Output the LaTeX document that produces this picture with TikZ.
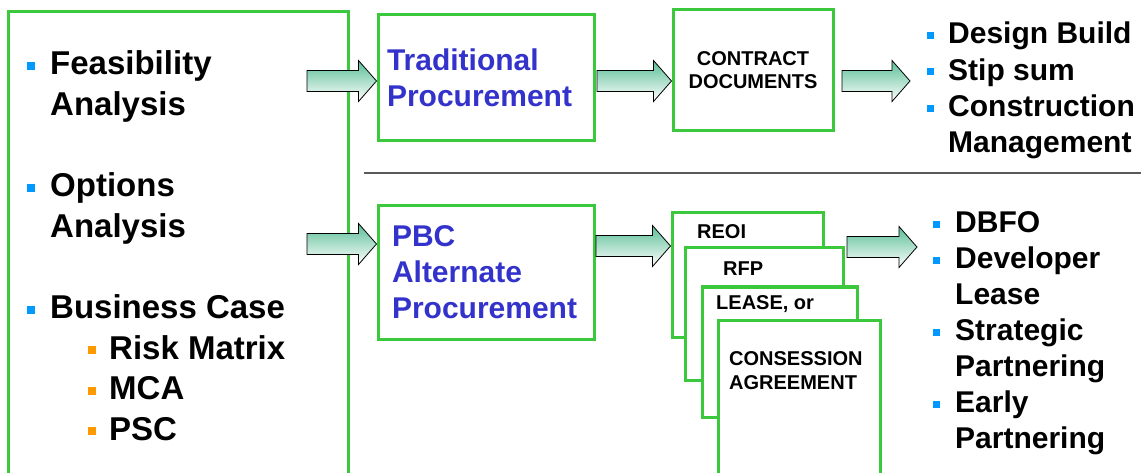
\documentclass[tikz,border=0pt]{standalone}
\usepackage{fontspec}
\setmainfont{Liberation Sans}
\usetikzlibrary{calc}
\definecolor{boxgreen}{RGB}{60,200,60}
\definecolor{procblue}{RGB}{51,51,204}
\definecolor{bulletblue}{RGB}{0,153,255}
\definecolor{bulletorange}{RGB}{255,153,0}
\definecolor{arrowteal}{RGB}{90,190,150}
\definecolor{rulegray}{RGB}{90,90,90}
\newcommand\sqb[2][8pt]{\textcolor{#2}{\rule[5pt]{#1}{#1}}}

\begin{document}
\begin{tikzpicture}[x=1pt,y=-1pt,font=\bfseries,
  box/.style={draw=boxgreen,line width=3pt,fill=white,inner sep=0pt},
  bluetxt/.style={box,text=procblue,align=left,font=\bfseries\fontsize{30}{36}\selectfont},
  smalltxt/.style={inner sep=0pt,font=\bfseries\fontsize{20}{24}\selectfont},
  biglist/.style={inner sep=0pt,anchor=base west},
  blockarr/.style={draw=black,line width=0.8pt,top color=arrowteal,bottom color=white,
    to path={let \p1=(\tikztostart),\p2=(\tikztotarget) in
      (\x1,\y1+10.5pt) -- (\x2-18pt,\y1+10.5pt) -- (\x2-18pt,\y1+20.5pt) -- (\x2,\y1)
      -- (\x2-18pt,\y1-20.5pt) -- (\x2-18pt,\y1-10.5pt) -- (\x1,\y1-10.5pt) -- cycle}}]
\useasboundingbox (0,0) rectangle (1141,473);
\clip (0,0) rectangle (1141,473);
\node[box,fill=none,minimum width=340pt,minimum height=480pt] (prep) at (178,252) {};
\node[biglist,font=\bfseries\fontsize{33}{40.6}\selectfont] (prepitems) at (27,75) {%
  \begin{tabular}[t]{@{}l@{\hspace{15pt}}l@{}}
  \sqb{bulletblue} & Feasibility\\
   & Analysis\\
   & \\
  \sqb{bulletblue} & Options\\
   & Analysis\\
   & \\
  \sqb{bulletblue} & Business Case\\
   & \hspace{38pt}\sqb{bulletorange}\hspace{13pt}Risk Matrix\\
   & \hspace{38pt}\sqb{bulletorange}\hspace{13pt}MCA\\
   & \hspace{38pt}\sqb{bulletorange}\hspace{13pt}PSC
  \end{tabular}};
\draw[rulegray,line width=2pt] (364,173) -- (1141,173);
\node[bluetxt,minimum width=216pt,minimum height=126pt,text width=198pt,inner xsep=9pt] (trad) at (486,78) {Traditional\\Procurement};
\node[box,minimum width=160pt,minimum height=121pt,align=center,font=\bfseries\fontsize{20}{23}\selectfont] (contract) at (753,70.5) {CONTRACT\\DOCUMENTS};
\node[bluetxt,minimum width=216pt,minimum height=133pt,text width=188pt,inner xsep=14pt] (pbc) at (486,272.5) {PBC\\Alternate\\Procurement};
\node[box,minimum width=151pt,minimum height=124pt] (reoi) at (747.5,275) {};
\node[smalltxt,anchor=base west] (reoitxt) at (697,239) {REOI};
\node[box,minimum width=158pt,minimum height=132pt] (rfp) at (764,314) {};
\node[smalltxt,anchor=base west] (rfptxt) at (723,276) {RFP};
\node[box,minimum width=155pt,minimum height=130pt] (lease) at (779.5,352) {};
\node[smalltxt,anchor=base west] (leasetxt) at (716,309) {LEASE, or};
\node[box,minimum width=162pt,minimum height=180pt] (concession) at (799,410) {};
\node[smalltxt,anchor=base west,align=left] (concessiontxt) at (729,389) {CONSESSION\\AGREEMENT};
\node[biglist,font=\bfseries\fontsize{30}{36.3}\selectfont] (tradlist) at (927,44) {%
  \begin{tabular}[t]{@{}l@{\hspace{14pt}}l@{}}
  \sqb[7pt]{bulletblue} & Design Build\\
  \sqb[7pt]{bulletblue} & Stip sum\\
  \sqb[7pt]{bulletblue} & Construction\\
   & Management
  \end{tabular}};
\node[biglist,font=\bfseries\fontsize{30}{36}\selectfont] (pbclist) at (933,233) {%
  \begin{tabular}[t]{@{}l@{\hspace{15pt}}l@{}}
  \sqb[7pt]{bulletblue} & DBFO\\
  \sqb[7pt]{bulletblue} & Developer\\
   & Lease\\
  \sqb[7pt]{bulletblue} & Strategic\\
   & Partnering\\
  \sqb[7pt]{bulletblue} & Early\\
   & Partnering
  \end{tabular}};
\coordinate (a1) at (307,81); \coordinate (a2) at (597,81); \coordinate (a3) at (842,81);
\coordinate (a3tip) at (910,81);
\coordinate (a4) at (307,244); \coordinate (a5) at (596,246); \coordinate (a6) at (847,247);
\coordinate (a6tip) at (917,247);
\path[blockarr] (a1) to (trad.west);
\path[blockarr] (a2) to (contract.west);
\path[blockarr] (a3) to (a3tip);
\path[blockarr] (a4) to (pbc.west);
\path[blockarr] (a5) to (reoi.west);
\path[blockarr] (a6) to (a6tip);
\end{tikzpicture}
\end{document}
